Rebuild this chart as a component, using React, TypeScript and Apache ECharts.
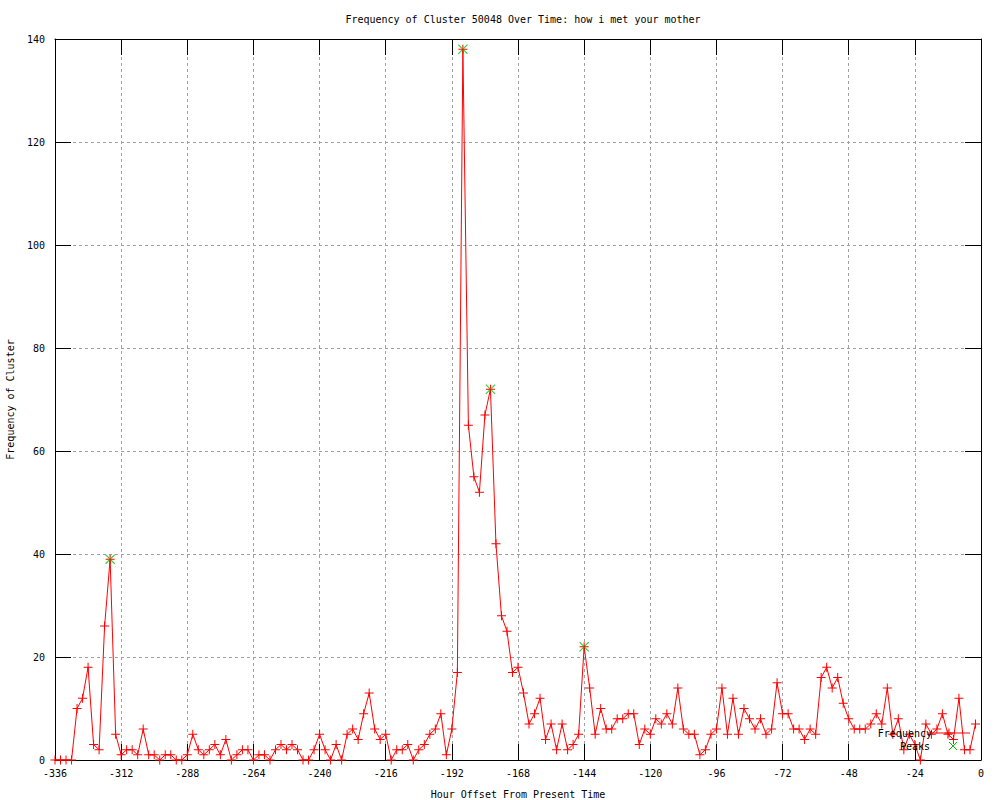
import React, { useEffect, useRef } from "react";
import * as echarts from "echarts";

const TITLE = "Frequency of Cluster 50048 Over Time: how i met your mother";
const X_NAME = "Hour Offset From Present Time";
const Y_NAME = "Frequency of Cluster";
const LEGEND_NAMES = ["Frequency", "Peaks"];

const hours: number[] = [
  -336, -334, -332, -330, -328, -326, -324, -322, -320, -318, -316, -314,
  -312, -310, -308, -306, -304, -302, -300, -298, -296, -294, -292, -290,
  -288, -286, -284, -282, -280, -278, -276, -274, -272, -270, -268, -266,
  -264, -262, -260, -258, -256, -254, -252, -250, -248, -246, -244, -242,
  -240, -238, -236, -234, -232, -230, -228, -226, -224, -222, -220, -218,
  -216, -214, -212, -210, -208, -206, -204, -202, -200, -198, -196, -194,
  -192, -190, -188, -186, -184, -182, -180, -178, -176, -174, -172, -170,
  -168, -166, -164, -162, -160, -158, -156, -154, -152, -150, -148, -146,
  -144, -142, -140, -138, -136, -134, -132, -130, -128, -126, -124, -122,
  -120, -118, -116, -114, -112, -110, -108, -106, -104, -102, -100, -98,
  -96, -94, -92, -90, -88, -86, -84, -82, -80, -78, -76, -74,
  -72, -70, -68, -66, -64, -62, -60, -58, -56, -54, -52, -50,
  -48, -46, -44, -42, -40, -38, -36, -34, -32, -30, -28, -26,
  -24, -22, -20, -18, -16, -14, -12, -10, -8, -6, -4, -2,
];

const frequency: number[] = [
  0, 0, 0, 0, 10, 12, 18, 3, 2, 26, 39, 5,
  1, 2, 2, 1, 6, 1, 1, 0, 1, 1, 0, 0,
  1, 5, 2, 1, 2, 3, 1, 4, 0, 1, 2, 2,
  0, 1, 1, 0, 2, 3, 2, 3, 2, 0, 0, 2,
  5, 2, 0, 3, 0, 5, 6, 4, 9, 13, 6, 4,
  5, 0, 2, 2, 3, 0, 2, 3, 5, 6, 9, 1,
  6, 17, 138, 65, 55, 52, 67, 72, 42, 28, 25, 17,
  18, 13, 7, 9, 12, 4, 7, 2, 7, 2, 3, 5,
  22, 14, 5, 10, 6, 6, 8, 8, 9, 9, 3, 6,
  5, 8, 7, 9, 7, 14, 6, 5, 5, 1, 2, 5,
  6, 14, 5, 12, 5, 10, 8, 6, 8, 5, 6, 15,
  9, 9, 6, 6, 4, 6, 5, 16, 18, 14, 16, 11,
  8, 6, 6, 6, 7, 9, 7, 14, 5, 8, 2, 5,
  3, 0, 7, 5, 6, 9, 5, 4, 12, 2, 2, 7,
];

const peakHours: number[] = [-316, -188, -178, -144];
const peakValues: number[] = [39, 138, 72, 22];

const X_MIN = -336;
const X_MAX = 0;
const X_STEP = 24;
const Y_MIN = 0;
const Y_MAX = 140;
const Y_STEP = 20;

const RED = "#ff0000";
const GREEN = "#00c000";
const PLUS = "path://M4,0h1v4h4v1h-4v4h-1v-4h-4v-1h4z";
const CROSS = "path://M0,0.8L0.8,0L10,9.2L9.2,10Z M10,0.8L9.2,0L0,9.2L0.8,10Z";

const FONT = "DejaVu Sans Mono";

export default function App() {
  const ref = useRef<HTMLDivElement>(null);

  useEffect(() => {
    if (!ref.current) return;
    const chart = echarts.init(ref.current, null, { renderer: "svg" });

    const tick = { show: true, inside: true, length: 16, lineStyle: { color: "#000", width: 1 } };
    const axisLine = { show: true, onZero: false, lineStyle: { color: "#000", width: 1 } };
    const grid = { show: true, lineStyle: { color: "#a0a0a0", width: 1, type: [3, 3] as any } };
    const label = { color: "#000", fontFamily: FONT, fontSize: 10 };
    const keyText = { fill: "#000", font: `10px "${FONT}"`, align: "right", verticalAlign: "middle" };

    // key (legend) drawn like gnuplot: right-aligned text followed by sample
    const keyX = 949;
    const keyY1 = 733;
    const keyY2 = 746;
    const legendGraphics: any[] = [
      { type: "text", x: 932, y: keyY1, z: 10, style: { ...keyText, text: LEGEND_NAMES[0] } },
      { type: "line", z: 10, shape: { x1: 928, y1: keyY1, x2: 970, y2: keyY1 }, style: { stroke: RED, lineWidth: 1 } },
      { type: "line", z: 10, shape: { x1: keyX - 4.5, y1: keyY1, x2: keyX + 4.5, y2: keyY1 }, style: { stroke: RED, lineWidth: 1 } },
      { type: "line", z: 10, shape: { x1: keyX, y1: keyY1 - 4.5, x2: keyX, y2: keyY1 + 4.5 }, style: { stroke: RED, lineWidth: 1 } },
      { type: "text", x: 930, y: keyY2, z: 10, style: { ...keyText, text: LEGEND_NAMES[1] } },
      { type: "line", z: 10, shape: { x1: 949, y1: keyY2 - 4, x2: 957, y2: keyY2 + 4 }, style: { stroke: GREEN, lineWidth: 1 } },
      { type: "line", z: 10, shape: { x1: 957, y1: keyY2 - 4, x2: 949, y2: keyY2 + 4 }, style: { stroke: GREEN, lineWidth: 1 } },
    ];

    chart.setOption({
      animation: false,
      backgroundColor: "#fff",
      title: {
        text: TITLE,
        left: 518,
        top: 9,
        textAlign: "center",
        textStyle: { fontFamily: FONT, fontSize: 10, fontWeight: "normal", color: "#000" },
      },
      grid: {
        left: 55,
        right: 19,
        top: 39,
        bottom: 40,
        containLabel: false,
        outerBoundsMode: "none",
      },
      graphic: legendGraphics,
      xAxis: [
        {
          type: "value",
          min: X_MIN,
          max: X_MAX,
          interval: X_STEP,
          position: "bottom",
          name: X_NAME,
          nameLocation: "middle",
          nameGap: 29,
          nameTextStyle: { fontFamily: FONT, fontSize: 10, color: "#000" },
          axisLine,
          axisTick: tick,
          axisLabel: { ...label, margin: 8, showMinLabel: true, showMaxLabel: true },
          splitLine: grid,
        },
        {
          type: "value",
          min: X_MIN,
          max: X_MAX,
          interval: X_STEP,
          position: "top",
          axisLine,
          axisTick: tick,
          axisLabel: { show: false },
          splitLine: { show: false },
        },
      ],
      yAxis: [
        {
          type: "value",
          min: Y_MIN,
          max: Y_MAX,
          interval: Y_STEP,
          position: "left",
          name: Y_NAME,
          nameLocation: "middle",
          nameGap: 40,
          nameRotate: 90,
          nameTextStyle: { fontFamily: FONT, fontSize: 10, color: "#000" },
          axisLine,
          axisTick: tick,
          axisLabel: { ...label, margin: 10 },
          splitLine: grid,
        },
        {
          type: "value",
          min: Y_MIN,
          max: Y_MAX,
          interval: Y_STEP,
          position: "right",
          axisLine,
          axisTick: tick,
          axisLabel: { show: false },
          splitLine: { show: false },
        },
      ],
      series: [
        {
          name: LEGEND_NAMES[0],
          type: "line",
          data: hours.map((h, i) => [h, frequency[i]]),
          symbol: PLUS,
          symbolSize: 9,
          showAllSymbol: true,
          lineStyle: { color: RED, width: 1 },
          itemStyle: { color: RED },
          emphasis: { disabled: true },
          z: 3,
        },
        {
          name: LEGEND_NAMES[1],
          type: "scatter",
          data: peakHours.map((h, i) => [h, peakValues[i]]),
          symbol: CROSS,
          symbolSize: 10,
          itemStyle: { color: GREEN },
          emphasis: { disabled: true },
          z: 4,
        },
      ],
    });

    return () => chart.dispose();
  }, []);

  return (
    <div
      ref={ref}
      style={{ position: "absolute", left: 0, top: 0, width: 1000, height: 800 }}
    />
  );
}
